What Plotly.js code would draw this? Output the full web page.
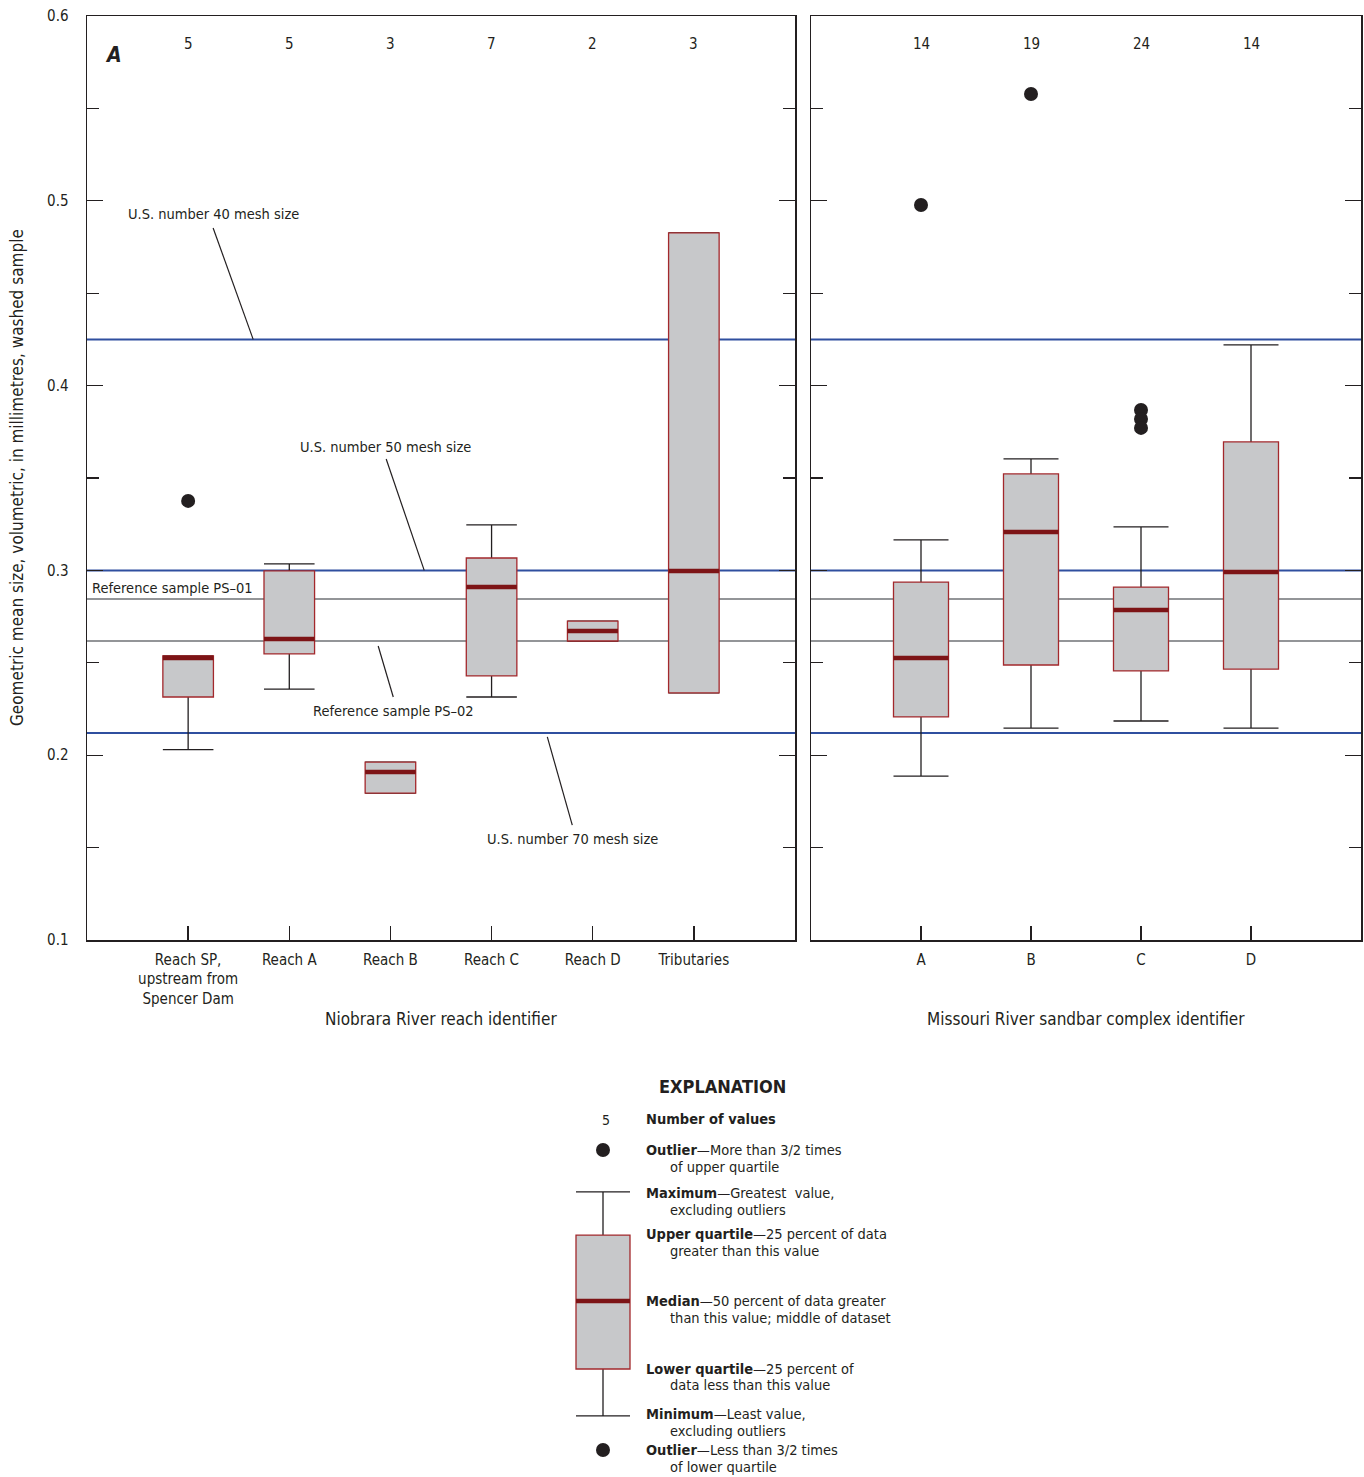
<!DOCTYPE html>
<html><head><meta charset="utf-8">
<script src="https://cdn.plot.ly/plotly-3.0.1.min.js"></script>
<style>body{margin:0;background:#fff}#chart{width:1364px;height:1477px}</style>
</head><body><div id="chart"></div>
<script>
// ---------- Data ----------
const niobraraCategories = ['Reach SP,<br>upstream from<br>Spencer Dam','Reach A','Reach B','Reach C','Reach D','Tributaries'];
const niobraraCounts = [5, 5, 3, 7, 2, 3];
const niobraraMin    = [0.2030, 0.2358, 0.1795, 0.2315, 0.2618, 0.2337];
const niobraraQ1     = [0.2315, 0.2548, 0.1795, 0.2429, 0.2618, 0.2337];
const niobraraMedian = [0.2526, 0.2629, 0.1909, 0.2910, 0.2672, 0.2997];
const niobraraQ3     = [0.2537, 0.2997, 0.1963, 0.3067, 0.2726, 0.4826];
const niobraraMax    = [0.2537, 0.3035, 0.1963, 0.3246, 0.2726, 0.4826];
const niobraraOutlierCats = ['Reach SP,<br>upstream from<br>Spencer Dam'];
const niobraraOutlierVals = [0.3376];

const missouriCategories = ['A', 'B', 'C', 'D'];
const missouriCounts = [14, 19, 24, 14];
const missouriMin    = [0.1887, 0.2147, 0.2185, 0.2147];
const missouriQ1     = [0.2207, 0.2488, 0.2456, 0.2466];
const missouriMedian = [0.2526, 0.3208, 0.2786, 0.2991];
const missouriQ3     = [0.2937, 0.3522, 0.2910, 0.3695];
const missouriMax    = [0.3165, 0.3603, 0.3235, 0.4220];
const missouriOutlierCats = ['A', 'B', 'C', 'C', 'C'];
const missouriOutlierVals = [0.4977, 0.5578, 0.3868, 0.3819, 0.3771];

const meshSizes = [0.425, 0.300, 0.212];          // U.S. number 40, 50, 70 mesh
const referenceSamples = [0.2845, 0.2618];        // PS-01, PS-02

const yTickVals = [0.1, 0.2, 0.3, 0.4, 0.5, 0.6];
const yTickText = ['0.1', '0.2', '0.3', '0.4', '0.5', '0.6'];
const yMinorVals = [0.15, 0.25, 0.35, 0.45, 0.55];

// schematic box for the explanation
const explMin = 1.59, explQ1 = 2.97, explMedian = 4.97, explQ3 = 6.91, explMax = 8.18;
const explOutliers = [9.41, 0.59];

// ---------- Styles ----------
const FONT = '"Liberation Sans Narrow", "DejaVu Sans Condensed", "Roboto Condensed", "Arial Narrow", sans-serif';
const INK = '#231f20';
const BOXFILL = '#c7c8ca';
const BOXLINE = '#a3282c';
const MEDIAN = '#7d1416';
const BLUE = '#2f4f9f';
const GREY = '#939598';

function boxSet(cats, mn, q1, med, q3, mx, xa, ya, w) {
  const common = {type: 'box', x: cats, xaxis: xa, yaxis: ya, width: w, boxpoints: false,
                  hoverinfo: 'skip', showlegend: false};
  return [
    Object.assign({}, common, {q1: med, median: med, q3: med, lowerfence: mn, upperfence: mx,
      line: {color: INK, width: 1.3}, fillcolor: 'rgba(0,0,0,0)', whiskerwidth: 1}),
    Object.assign({}, common, {q1: q1, median: med, q3: q3, lowerfence: q1, upperfence: q3,
      line: {color: BOXLINE, width: 1.3}, fillcolor: BOXFILL, whiskerwidth: 0}),
    Object.assign({}, common, {q1: med, median: med, q3: med, lowerfence: med, upperfence: med,
      line: {color: MEDIAN, width: 4.5}, fillcolor: 'rgba(0,0,0,0)', whiskerwidth: 0})
  ];
}

const traces = [].concat(
  boxSet(niobraraCategories, niobraraMin, niobraraQ1, niobraraMedian, niobraraQ3, niobraraMax, 'x', 'y', 0.5),
  [{type: 'scatter', mode: 'markers', x: niobraraOutlierCats, y: niobraraOutlierVals, xaxis: 'x', yaxis: 'y',
    marker: {size: 14, color: INK}, hoverinfo: 'skip', showlegend: false}],
  boxSet(missouriCategories, missouriMin, missouriQ1, missouriMedian, missouriQ3, missouriMax, 'x2', 'y2', 0.5),
  [{type: 'scatter', mode: 'markers', x: missouriOutlierCats, y: missouriOutlierVals, xaxis: 'x2', yaxis: 'y2',
    marker: {size: 14, color: INK}, hoverinfo: 'skip', showlegend: false}],
  boxSet([0], [explMin], [explQ1], [explMedian], [explQ3], [explMax], 'x3', 'y3', 1.0),
  [{type: 'scatter', mode: 'markers', x: [0, 0], y: explOutliers, xaxis: 'x3', yaxis: 'y3',
    marker: {size: 14, color: INK}, hoverinfo: 'skip', showlegend: false}]
);

// ---------- Axes ----------
const W = 1364, H = 1477;
const yDom = [1 - 940 / H, 1 - 16 / H];
function yAxis(extra) {
  return Object.assign({
    domain: yDom, range: [0.1, 0.6], tickmode: 'array', tickvals: yTickVals, ticktext: yTickText,
    ticks: 'inside', ticklen: 16, tickwidth: 1.3, tickcolor: INK,
    minor: {tickmode: 'array', tickvals: yMinorVals, ticks: 'inside', ticklen: 12, tickwidth: 1.3, tickcolor: INK, showgrid: false},
    showline: true, linecolor: INK, linewidth: 1.5, mirror: 'ticks', showgrid: false, zeroline: false,
    tickfont: {family: FONT, size: 15, color: INK}, ticklabelstandoff: 14, fixedrange: true
  }, extra);
}
function xAxis(extra) {
  return Object.assign({
    type: 'category', ticks: 'inside', ticklen: 14, tickwidth: 1.3, tickcolor: INK,
    showline: true, linecolor: INK, linewidth: 1.5, mirror: true, showgrid: false, zeroline: false,
    tickfont: {family: FONT, size: 15, color: INK}, ticklabelstandoff: 5, fixedrange: true
  }, extra);
}

// ---------- Shapes (reference lines & leaders) ----------
const shapes = [];
[['x', 'y'], ['x2', 'y2']].forEach(([xa, ya]) => {
  meshSizes.forEach(v => shapes.push({type: 'line', xref: xa + ' domain', yref: ya, x0: 0, x1: 1, y0: v, y1: v,
    line: {color: BLUE, width: 2}, layer: 'below'}));
  referenceSamples.forEach(v => shapes.push({type: 'line', xref: xa + ' domain', yref: ya, x0: 0, x1: 1, y0: v, y1: v,
    line: {color: GREY, width: 2}, layer: 'below'}));
});
const leaders = [
  [0.247, 0.4853, 0.643, meshSizes[0]],
  [1.958, 0.3603, 2.334, meshSizes[1]],
  [1.879, referenceSamples[1] - 0.0027, 2.028, 0.2315],
  [3.551, meshSizes[2] - 0.0021, 3.798, 0.1622]
];
leaders.forEach(l => shapes.push({type: 'line', xref: 'x', yref: 'y', x0: l[0], y0: l[1], x1: l[2], y1: l[3],
  line: {color: INK, width: 1.2}}));

// ---------- Annotations ----------
const ann = [];
const tf = (s, extra) => Object.assign({family: FONT, size: s, color: INK}, extra || {});
function note(o) { return Object.assign({showarrow: false, xanchor: 'center', yanchor: 'middle'}, o); }
niobraraCounts.forEach((c, i) => ann.push(note({xref: 'x', yref: 'y', x: i, y: 0.5848, text: String(c), font: tf(15)})));
missouriCounts.forEach((c, i) => ann.push(note({xref: 'x2', yref: 'y2', x: i, y: 0.5848, text: String(c), font: tf(15)})));
ann.push(note({xref: 'paper', yref: 'paper', x: 113 / W, y: 1 - 55 / H, text: '<b><i>A</i></b>', font: tf(21)}));
ann.push(note({xref: 'x', yref: 'y', x: 0.247, y: 0.4929, text: 'U.S. number 40 mesh size', font: tf(14.5)}));
ann.push(note({xref: 'x', yref: 'y', x: 1.949, y: 0.3668, text: 'U.S. number 50 mesh size', font: tf(14.5)}));
ann.push(note({xref: 'x', yref: 'y', x: -0.975, y: 0.2905, xanchor: 'left', text: 'Reference sample PS–01', font: tf(14.5)}));
ann.push(note({xref: 'x', yref: 'y', x: 2.028, y: 0.2239, text: 'Reference sample PS–02', font: tf(14.5)}));
ann.push(note({xref: 'x', yref: 'y', x: 3.798, y: 0.1547, text: 'U.S. number 70 mesh size', font: tf(14.5)}));
// axis titles
ann.push(note({xref: 'paper', yref: 'paper', x: 441 / W, y: 1 - 1019 / H, text: 'Niobrara River reach identifier', font: tf(17)}));
ann.push(note({xref: 'paper', yref: 'paper', x: 1086 / W, y: 1 - 1019 / H, text: 'Missouri River sandbar complex identifier', font: tf(17)}));
ann.push(note({xref: 'paper', yref: 'paper', x: 17 / W, y: 1 - 478 / H, textangle: -90,
  text: 'Geometric mean size, volumetric, in millimetres, washed sample', font: tf(17)}));
// explanation
ann.push(note({xref: 'paper', yref: 'paper', x: 722 / W, y: 1 - 1086 / H, text: '<b>EXPLANATION</b>', font: tf(18)}));
ann.push(note({xref: 'paper', yref: 'paper', x: 606 / W, y: 1 - 1120 / H, text: '5', font: tf(14)}));
const explLines = [
  [644, 1119, '<b>Number of values</b>'],
  [644, 1150, '<b>Outlier</b>—More than 3/2 times'], [668, 1167, 'of upper quartile'],
  [644, 1193, '<b>Maximum</b>—Greatest  value,'], [668, 1210, 'excluding outliers'],
  [644, 1234, '<b>Upper quartile</b>—25 percent of data'], [668, 1251, 'greater than this value'],
  [644, 1301, '<b>Median</b>—50 percent of data greater'], [668, 1318, 'than this value; middle of dataset'],
  [644, 1369, '<b>Lower quartile</b>—25 percent of'], [668, 1385, 'data less than this value'],
  [644, 1414, '<b>Minimum</b>—Least value,'], [668, 1431, 'excluding outliers'],
  [644, 1450, '<b>Outlier</b>—Less than 3/2 times'], [668, 1467, 'of lower quartile']
];
explLines.forEach(([px, py, t]) => ann.push(note({xref: 'paper', yref: 'paper', x: px / W, y: 1 - py / H,
  xanchor: 'left', text: t, font: tf(14.5)})));

const layout = {
  width: W, height: H, margin: {l: 0, r: 0, t: 0, b: 0}, paper_bgcolor: '#fff', plot_bgcolor: '#fff',
  showlegend: false, boxmode: 'overlay', font: {family: FONT, color: INK},
  xaxis: xAxis({domain: [87 / W, 795 / W], anchor: 'y', range: [-1, 6]}),
  yaxis: yAxis({anchor: 'x'}),
  xaxis2: xAxis({domain: [811 / W, 1361 / W], anchor: 'y2', range: [-1, 4]}),
  yaxis2: yAxis({anchor: 'x2', showticklabels: false}),
  xaxis3: {domain: [549 / W, 657 / W], anchor: 'y3', range: [-1, 1], visible: false, fixedrange: true},
  yaxis3: {domain: [1 - 1470 / H, 1 - 1130 / H], anchor: 'x3', range: [0, 10], visible: false, fixedrange: true},
  shapes: shapes, annotations: ann
};
Plotly.newPlot('chart', traces, layout, {staticPlot: true, displayModeBar: false});
</script></body></html>
